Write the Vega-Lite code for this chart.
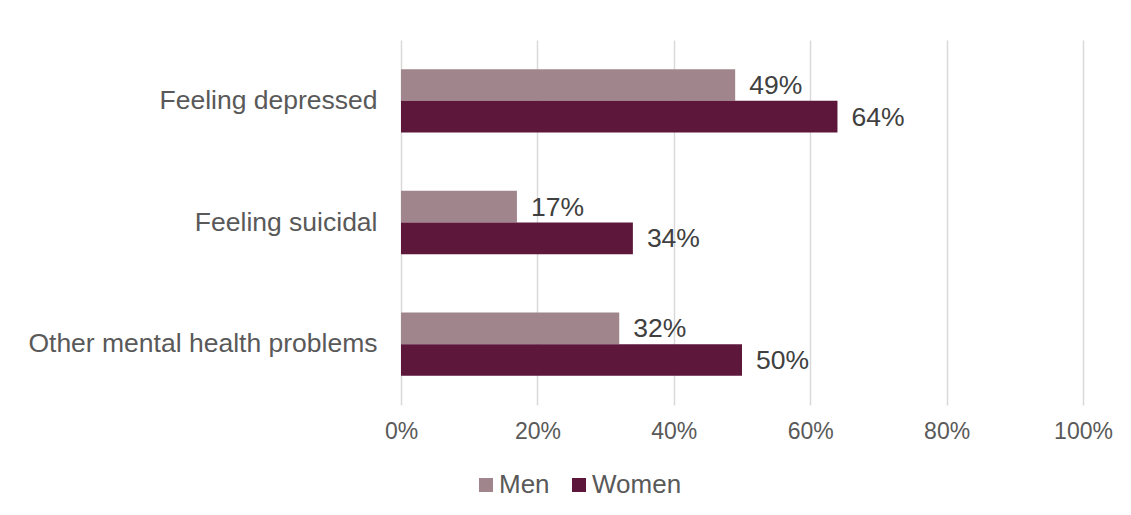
{
  "$schema": "https://vega.github.io/schema/vega-lite/v6.json",
  "autosize": {"type": "none"},
  "padding": {"left": 401, "top": 40, "right": 48, "bottom": 110},
  "width": 682,
  "height": 365,
  "background": "white",
  "config": {
    "view": {"stroke": null},
    "font": "Liberation Sans"
  },
  "data": {
    "values": [
      {"category": "Feeling depressed", "group": "Men", "value": 0.49},
      {"category": "Feeling depressed", "group": "Women", "value": 0.64},
      {"category": "Feeling suicidal", "group": "Men", "value": 0.17},
      {"category": "Feeling suicidal", "group": "Women", "value": 0.34},
      {"category": "Other mental health problems", "group": "Men", "value": 0.32},
      {"category": "Other mental health problems", "group": "Women", "value": 0.50}
    ]
  },
  "encoding": {
    "y": {
      "field": "category",
      "type": "nominal",
      "sort": null,
      "title": null,
      "scale": {"paddingInner": 0.48, "paddingOuter": 0.24},
      "axis": {
        "ticks": false,
        "domain": false,
        "labelPadding": 24,
        "labelFontSize": 26.5,
        "labelColor": "#595959",
        "labelLimit": 500
      }
    },
    "yOffset": {
      "field": "group",
      "type": "nominal",
      "scale": {"domain": ["Men", "Women"]}
    },
    "x": {
      "field": "value",
      "type": "quantitative",
      "title": null,
      "scale": {"domain": [0, 1], "nice": false},
      "axis": {
        "values": [0, 0.2, 0.4, 0.6, 0.8, 1],
        "format": ".0%",
        "ticks": false,
        "domain": false,
        "labelFlush": false,
        "labelPadding": 15,
        "labelFontSize": 23,
        "labelColor": "#595959",
        "gridColor": "#D9D9D9",
        "gridWidth": 1.5
      }
    }
  },
  "layer": [
    {
      "mark": {"type": "bar"},
      "encoding": {
        "color": {
          "field": "group",
          "type": "nominal",
          "scale": {"domain": ["Men", "Women"], "range": ["#A0868C", "#5C173B"]},
          "legend": {
            "title": null,
            "orient": "none",
            "direction": "horizontal",
            "legendX": 72,
            "legendY": 432,
            "symbolType": "square",
            "symbolSize": 196,
            "symbolStrokeWidth": 0,
            "labelFontSize": 26,
            "labelColor": "#595959",
            "columnPadding": 16,
            "labelOffset": 0
          }
        }
      }
    },
    {
      "mark": {"type": "text", "align": "left", "baseline": "middle", "dx": 14, "dy": 1, "fontSize": 26.5, "color": "#404040"},
      "encoding": {
        "text": {"field": "value", "type": "quantitative", "format": ".0%"}
      }
    }
  ]
}
